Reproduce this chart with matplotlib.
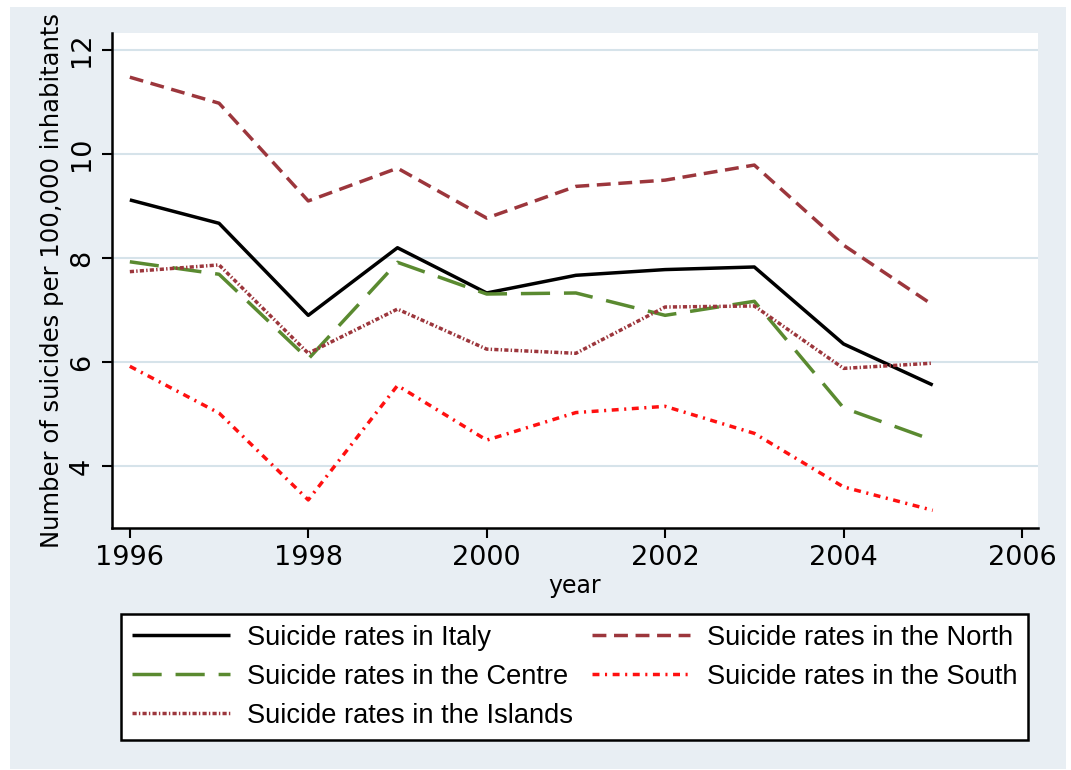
"""
Suicide rates in Italy by macro-area, 1996-2005 (Stata-style line chart).
Writes out.png at 1071x770.
"""
import matplotlib
matplotlib.use("Agg")
import matplotlib.pyplot as plt
from matplotlib.patches import Rectangle

BG, GRID = "#E8EEF3", "#D6E3EA"
MAROON, GREEN, RED = "#9C363C", "#5A8A30", "#FF1010"

years = [1996, 1997, 1998, 1999, 2000, 2001, 2002, 2003, 2004, 2005]
italy = [9.12, 8.67, 6.90, 8.20, 7.33, 7.67, 7.78, 7.83, 6.35, 5.56]
north = [11.48, 10.98, 9.10, 9.73, 8.77, 9.38, 9.50, 9.79, 8.25, 7.10]
centre = [7.93, 7.69, 6.06, 7.92, 7.31, 7.33, 6.90, 7.17, 5.12, 4.50]
islands = [7.74, 7.87, 6.17, 7.02, 6.25, 6.17, 7.06, 7.08, 5.88, 5.98]
south = [5.92, 5.02, 3.35, 5.55, 4.50, 5.03, 5.15, 4.63, 3.60, 3.15]

labels = ["Suicide rates in Italy", "Suicide rates in the Centre",
          "Suicide rates in the Islands", "Suicide rates in the North",
          "Suicide rates in the South"]
xticks = [1996, 1998, 2000, 2002, 2004, 2006]
yticks = [4, 6, 8, 10, 12]

plt.rcParams.update({
    "font.family": "DejaVu Sans",
    "lines.scale_dashes": False,
    "lines.solid_capstyle": "butt",
    "lines.dash_capstyle": "butt",
})

fig = plt.figure(figsize=(10.71, 7.70), dpi=100, facecolor="white")
fig.patches.append(Rectangle((10 / 1071, 1 / 770), 1056 / 1071, 762 / 770,
                             transform=fig.transFigure, facecolor=BG,
                             edgecolor="none", zorder=-10))
ax = fig.add_axes([112 / 1071, 1 - 528 / 770, 926 / 1071, 495 / 770])
ax.set_facecolor("white")

lw = 2.5
ax.plot(years, italy, color="black", lw=lw, ls="-")
ax.plot(years, centre, color=GREEN, lw=lw, ls=(0, (21, 10)))
ax.plot(years, islands, color=MAROON, lw=lw, ls=(0, (3, 1.6, 1, 1.6)))
ax.plot(years, north, color=MAROON, lw=lw, ls=(0, (10, 5.5)))
ax.plot(years, south, color=RED, lw=lw, ls=(0, (5, 4, 1.5, 4)))

ax.set_xlim(1995.8, 2006.18)
ax.set_ylim(2.81, 12.33)
ax.set_xticks(xticks)
ax.set_yticks(yticks)
ax.grid(axis="y", color=GRID, lw=1.5)
ax.set_axisbelow(True)
for s in ("top", "right"):
    ax.spines[s].set_visible(False)
for s in ("left", "bottom"):
    ax.spines[s].set_linewidth(1.8)
ax.tick_params(axis="both", length=7.5, width=1.5, labelsize=19.5)
ax.tick_params(axis="x", pad=5)
ax.tick_params(axis="y", labelrotation=90, pad=5)
for t in ax.get_yticklabels():
    t.set_va("center")

ax.set_xlabel("year", fontsize=17, labelpad=2)
ax.set_ylabel("Number of suicides per 100,000 inhabitants", fontsize=17.5,
              labelpad=3)

leg = fig.legend(ax.get_lines(), labels, ncol=2,
                 loc="upper left",
                 bbox_to_anchor=(121 / 1071, 1 - 741 / 770, 907 / 1071, 127 / 770),
                 mode="expand", fancybox=False, framealpha=1,
                 edgecolor="black", handlelength=3.6, handletextpad=0.62,
                 labelspacing=0.48, borderpad=0.4, borderaxespad=0,
                 prop={"family": ["Liberation Sans", "DejaVu Sans"],
                       "size": 19.6})
leg.get_frame().set_linewidth(1.8)

fig.savefig("out.png", dpi=100)
